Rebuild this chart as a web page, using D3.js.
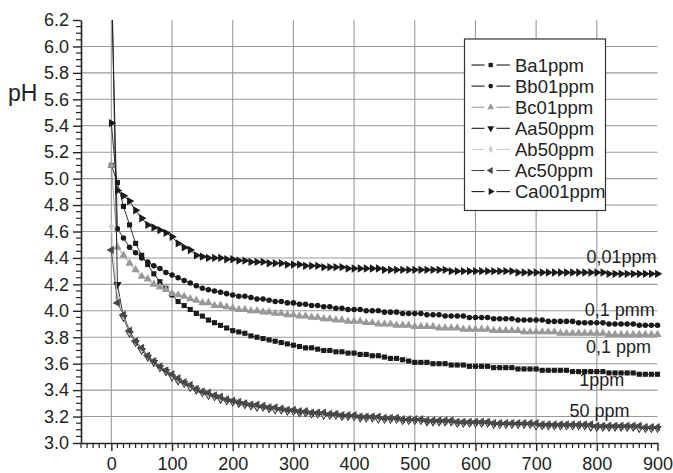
<!DOCTYPE html>
<html lang="en">
<head>
    <meta charset="utf-8">
    <title>pH vs time</title>
    <script type="text/javascript" src="https://d3js.org/d3.v7.min.js"></script>
    <style>
        body { margin: 0; background: white; }
        svg { display: block; font-family: "Liberation Sans", Arial, sans-serif; }
        .grid line { stroke: #9a9a9a; stroke-width: 1.1; }
        .axis path, .axis line { stroke: #222; }
        .axis path { stroke-width: 1.6; }
        .axis text { font-size: 18px; fill: #222; }
    </style>
</head>
<body>
    <div id="chart"></div>
    <script type="text/javascript">
        // ---- data ----
        const times = d3.range(0, 901, 10);

        const seriesNames = ["Ba1ppm", "Bb01ppm", "Bc01ppm", "Aa50ppm", "Ab50ppm", "Ac50ppm", "Ca001ppm"];

        const ba1 = [5.10, 4.97, 4.79, 4.65, 4.51, 4.42, 4.35, 4.28, 4.22, 4.17,
            4.12, 4.07, 4.04, 4.01, 3.98, 3.96, 3.93, 3.91, 3.89, 3.87,
            3.85, 3.84, 3.83, 3.81, 3.80, 3.79, 3.78, 3.77, 3.76, 3.75,
            3.74, 3.73, 3.72, 3.72, 3.71, 3.70, 3.70, 3.69, 3.69, 3.68,
            3.68, 3.67, 3.67, 3.66, 3.66, 3.65, 3.64, 3.64, 3.63, 3.62,
            3.61, 3.61, 3.61, 3.60, 3.60, 3.60, 3.59, 3.59, 3.59, 3.58,
            3.58, 3.58, 3.58, 3.57, 3.57, 3.57, 3.57, 3.56, 3.56, 3.56,
            3.56, 3.55, 3.55, 3.55, 3.55, 3.55, 3.54, 3.54, 3.54, 3.54,
            3.54, 3.54, 3.53, 3.53, 3.53, 3.53, 3.53, 3.52, 3.52, 3.52,
            3.52];

        const bb01 = [6.50, 4.62, 4.55, 4.48, 4.44, 4.40, 4.37, 4.34, 4.32, 4.29,
            4.27, 4.25, 4.23, 4.21, 4.19, 4.17, 4.16, 4.15, 4.14, 4.13,
            4.12, 4.11, 4.11, 4.10, 4.09, 4.09, 4.08, 4.07, 4.07, 4.06,
            4.06, 4.05, 4.05, 4.04, 4.04, 4.03, 4.03, 4.02, 4.02, 4.01,
            4.01, 4.01, 4.00, 4.00, 4.00, 3.99, 3.99, 3.99, 3.98, 3.98,
            3.98, 3.98, 3.97, 3.97, 3.97, 3.96, 3.96, 3.96, 3.96, 3.95,
            3.95, 3.95, 3.95, 3.94, 3.94, 3.94, 3.94, 3.93, 3.93, 3.93,
            3.93, 3.93, 3.92, 3.92, 3.92, 3.92, 3.92, 3.91, 3.91, 3.91,
            3.91, 3.91, 3.90, 3.90, 3.90, 3.90, 3.90, 3.89, 3.89, 3.89,
            3.89];

        const bc01 = [5.10, 4.48, 4.42, 4.36, 4.31, 4.26, 4.24, 4.20, 4.18, 4.16,
            4.13, 4.12, 4.11, 4.09, 4.08, 4.06, 4.06, 4.04, 4.04, 4.03,
            4.02, 4.01, 4.01, 4.00, 4.00, 3.99, 3.99, 3.98, 3.98, 3.97,
            3.97, 3.96, 3.96, 3.95, 3.95, 3.94, 3.94, 3.93, 3.93, 3.92,
            3.92, 3.92, 3.91, 3.91, 3.90, 3.90, 3.90, 3.89, 3.89, 3.89,
            3.88, 3.88, 3.88, 3.88, 3.87, 3.87, 3.87, 3.87, 3.86, 3.86,
            3.86, 3.86, 3.86, 3.85, 3.85, 3.85, 3.85, 3.85, 3.84, 3.84,
            3.84, 3.84, 3.84, 3.84, 3.83, 3.83, 3.83, 3.83, 3.83, 3.83,
            3.83, 3.83, 3.82, 3.82, 3.82, 3.82, 3.82, 3.82, 3.82, 3.82,
            3.82];

        const aa50 = [6.70, 4.20, 3.95, 3.83, 3.76, 3.70, 3.65, 3.61, 3.57, 3.54,
            3.50, 3.47, 3.45, 3.42, 3.40, 3.38, 3.36, 3.35, 3.33, 3.32,
            3.31, 3.30, 3.29, 3.28, 3.27, 3.27, 3.26, 3.25, 3.25, 3.24,
            3.24, 3.23, 3.23, 3.22, 3.22, 3.21, 3.21, 3.21, 3.20, 3.20,
            3.20, 3.19, 3.19, 3.19, 3.18, 3.18, 3.18, 3.18, 3.17, 3.17,
            3.17, 3.17, 3.16, 3.16, 3.16, 3.16, 3.16, 3.15, 3.15, 3.15,
            3.15, 3.15, 3.15, 3.14, 3.14, 3.14, 3.14, 3.14, 3.14, 3.14,
            3.13, 3.13, 3.13, 3.13, 3.13, 3.13, 3.13, 3.13, 3.13, 3.12,
            3.12, 3.12, 3.12, 3.12, 3.12, 3.12, 3.12, 3.11, 3.11, 3.11,
            3.11];

        const ab50 = [4.64, 4.10, 3.96, 3.84, 3.77, 3.71, 3.66, 3.62, 3.58, 3.55,
            3.51, 3.48, 3.46, 3.43, 3.41, 3.39, 3.37, 3.36, 3.34, 3.33,
            3.32, 3.31, 3.30, 3.29, 3.28, 3.28, 3.27, 3.26, 3.26, 3.25,
            3.25, 3.24, 3.24, 3.23, 3.23, 3.22, 3.22, 3.22, 3.21, 3.21,
            3.21, 3.20, 3.20, 3.20, 3.19, 3.19, 3.19, 3.19, 3.18, 3.18,
            3.18, 3.18, 3.17, 3.17, 3.17, 3.17, 3.17, 3.16, 3.16, 3.16,
            3.16, 3.16, 3.16, 3.15, 3.15, 3.15, 3.15, 3.15, 3.15, 3.15,
            3.14, 3.14, 3.14, 3.14, 3.14, 3.14, 3.14, 3.14, 3.14, 3.13,
            3.13, 3.13, 3.13, 3.13, 3.13, 3.13, 3.13, 3.12, 3.12, 3.12,
            3.12];

        const ac50 = [4.46, 4.06, 3.97, 3.85, 3.77, 3.72, 3.66, 3.62, 3.58, 3.55,
            3.52, 3.49, 3.46, 3.44, 3.41, 3.39, 3.38, 3.36, 3.35, 3.33,
            3.32, 3.31, 3.30, 3.29, 3.29, 3.28, 3.27, 3.27, 3.26, 3.25,
            3.25, 3.24, 3.24, 3.23, 3.23, 3.23, 3.22, 3.22, 3.21, 3.21,
            3.21, 3.20, 3.20, 3.20, 3.20, 3.19, 3.19, 3.19, 3.18, 3.18,
            3.18, 3.18, 3.17, 3.17, 3.17, 3.17, 3.17, 3.16, 3.16, 3.16,
            3.16, 3.16, 3.16, 3.15, 3.15, 3.15, 3.15, 3.15, 3.15, 3.15,
            3.15, 3.14, 3.14, 3.14, 3.14, 3.14, 3.14, 3.14, 3.14, 3.14,
            3.13, 3.13, 3.13, 3.13, 3.13, 3.13, 3.13, 3.13, 3.12, 3.12,
            3.12];

        const ca001 = [5.42, 4.91, 4.87, 4.83, 4.76, 4.70, 4.65, 4.63, 4.61, 4.59,
            4.56, 4.51, 4.48, 4.46, 4.42, 4.41, 4.40, 4.40, 4.40, 4.39,
            4.39, 4.38, 4.38, 4.37, 4.37, 4.37, 4.36, 4.36, 4.36, 4.35,
            4.35, 4.35, 4.34, 4.34, 4.34, 4.33, 4.33, 4.33, 4.33, 4.32,
            4.32, 4.32, 4.32, 4.32, 4.32, 4.31, 4.31, 4.31, 4.31, 4.31,
            4.31, 4.31, 4.31, 4.31, 4.31, 4.31, 4.30, 4.30, 4.30, 4.30,
            4.30, 4.30, 4.30, 4.30, 4.30, 4.30, 4.30, 4.29, 4.29, 4.29,
            4.29, 4.29, 4.29, 4.29, 4.29, 4.29, 4.29, 4.29, 4.29, 4.29,
            4.29, 4.29, 4.28, 4.28, 4.28, 4.28, 4.28, 4.28, 4.28, 4.28,
            4.28];

        const xTicks = [0, 100, 200, 300, 400, 500, 600, 700, 800, 900];
        const yTicks = [3.0, 3.2, 3.4, 3.6, 3.8, 4.0, 4.2, 4.4, 4.6, 4.8, 5.0, 5.2, 5.4, 5.6, 5.8, 6.0, 6.2];

        const noteTexts = ["0,01ppm", "0,1 pmm", "0,1 ppm", "1ppm", "50 ppm"];
        const noteTimes = [783, 780, 782, 771, 755];
        const notePH = [4.364, 3.961, 3.683, 3.434, 3.199];

        // ---- styles ----
        const allValues = [ba1, bb01, bc01, aa50, ab50, ac50, ca001];
        const colors = ["#1a1a1a", "#1a1a1a", "#999999", "#1a1a1a", "#cccccc", "#484848", "#1a1a1a"];
        const shapes = [d3.symbolSquare, d3.symbolCircle, d3.symbolTriangle, d3.symbolTriangle,
            d3.symbolDiamond, d3.symbolTriangle, d3.symbolTriangle];
        const rotations = [0, 0, 0, 180, 0, -90, 90];
        const sizes = [26, 24, 30, 30, 24, 30, 30];

        const width = 673;
        const height = 473;
        const plotLeft = 81, plotRight = 657.5, plotTop = 20, plotBottom = 443;

        const svg = d3.select("#chart")
            .append("svg")
            .attr("width", width)
            .attr("height", height);

        const x = d3.scaleLinear().domain([-50, 900]).range([plotLeft, plotRight]);
        const y = d3.scaleLinear().domain([3.0, 6.2]).range([plotBottom, plotTop]);

        // grid
        const grid = svg.append("g").attr("class", "grid");
        grid.selectAll("line.h")
            .data(yTicks.filter(d => d > 3.0 && d < 6.2))
            .enter().append("line")
                .attr("class", "h")
                .attr("x1", plotLeft).attr("x2", plotRight)
                .attr("y1", d => y(d)).attr("y2", d => y(d));
        grid.selectAll("line.v")
            .data(xTicks.filter(d => d < 900))
            .enter().append("line")
                .attr("class", "v")
                .attr("x1", d => x(d)).attr("x2", d => x(d))
                .attr("y1", plotTop).attr("y2", plotBottom);

        // minor ticks
        const xMinor = d3.range(-50, 901, 10).filter(d => d % 100 !== 0);
        const yMinor = d3.range(0, 65).map(i => 3.0 + i * 0.05).filter((d, i) => i % 4 !== 0);

        svg.append("g")
            .attr("class", "axis")
            .selectAll("line")
            .data(xMinor)
            .enter().append("line")
                .attr("x1", d => x(d)).attr("x2", d => x(d))
                .attr("y1", plotBottom).attr("y2", plotBottom + 5)
                .attr("stroke-width", 1.2);
        svg.append("g")
            .attr("class", "axis")
            .selectAll("line")
            .data(yMinor)
            .enter().append("line")
                .attr("x1", plotLeft - 5).attr("x2", plotLeft)
                .attr("y1", d => y(d)).attr("y2", d => y(d))
                .attr("stroke-width", 1.2);

        // axes
        svg.append("g")
            .attr("class", "axis")
            .attr("transform", `translate(0,${plotBottom})`)
            .call(d3.axisBottom(x).tickValues(xTicks).tickSize(8).tickPadding(6).tickSizeOuter(0))
            .call(g => g.selectAll(".tick line").attr("stroke-width", 1.4));

        svg.append("g")
            .attr("class", "axis")
            .attr("transform", `translate(${plotLeft},0)`)
            .call(d3.axisLeft(y).tickValues(yTicks).tickFormat(d3.format(".1f")).tickSize(8).tickPadding(4).tickSizeOuter(0))
            .call(g => g.selectAll(".tick line").attr("stroke-width", 1.4));

        svg.append("text")
            .attr("x", 8)
            .attr("y", 101)
            .attr("font-size", 23)
            .attr("fill", "#222")
            .text("pH");

        // series
        svg.append("clipPath").attr("id", "plot-clip")
            .append("rect")
                .attr("x", plotLeft).attr("y", plotTop)
                .attr("width", plotRight - plotLeft + 10).attr("height", plotBottom - plotTop);

        const line = d3.line()
            .x((d, i) => x(times[i]))
            .y(d => y(d));

        allValues.forEach((vals, s) => {
            const g = svg.append("g").attr("class", "series");
            g.append("path")
                .datum(vals)
                .attr("d", line)
                .attr("fill", "none")
                .attr("stroke", colors[s])
                .attr("stroke-width", 0.9)
                .attr("clip-path", "url(#plot-clip)");
            g.selectAll("path.pt")
                .data(vals.map((v, i) => [times[i], v]).filter(d => d[1] <= 6.2))
                .enter().append("path")
                    .attr("class", "pt")
                    .attr("d", d3.symbol().type(shapes[s]).size(sizes[s]))
                    .attr("transform", d => `translate(${x(d[0])},${y(d[1])}) rotate(${rotations[s]})`)
                    .attr("fill", colors[s]);
        });

        // notes on the right
        svg.append("g")
            .selectAll("text")
            .data(noteTexts)
            .enter().append("text")
                .attr("x", (d, i) => x(noteTimes[i]))
                .attr("y", (d, i) => y(notePH[i]))
                .attr("font-size", 18)
                .attr("fill", "#222")
                .text(d => d);

        // legend
        const legend = svg.append("g").attr("transform", "translate(464.5,39)");
        legend.append("rect")
            .attr("width", 141)
            .attr("height", 171.5)
            .attr("fill", "white")
            .attr("stroke", "#333")
            .attr("stroke-width", 1.2);

        const items = legend.selectAll("g.item")
            .data(seriesNames)
            .enter().append("g")
                .attr("class", "item")
                .attr("transform", (d, i) => `translate(0,${26 + i * 21.1})`);
        items.append("line")
            .attr("x1", 7).attr("x2", 20)
            .attr("stroke", (d, i) => colors[i]).attr("stroke-width", 1.1);
        items.append("line")
            .attr("x1", 32).attr("x2", 45.5)
            .attr("stroke", (d, i) => colors[i]).attr("stroke-width", 1.1);
        items.append("path")
            .attr("d", (d, i) => d3.symbol().type(shapes[i]).size(sizes[i] * 0.7)())
            .attr("transform", (d, i) => `translate(26.2,0) rotate(${rotations[i]})`)
            .attr("fill", (d, i) => colors[i]);
        items.append("text")
            .attr("x", 50.5)
            .attr("y", 6.5)
            .attr("font-size", 18.5)
            .attr("fill", "#222")
            .text(d => d);
    </script>
</body>
</html>
